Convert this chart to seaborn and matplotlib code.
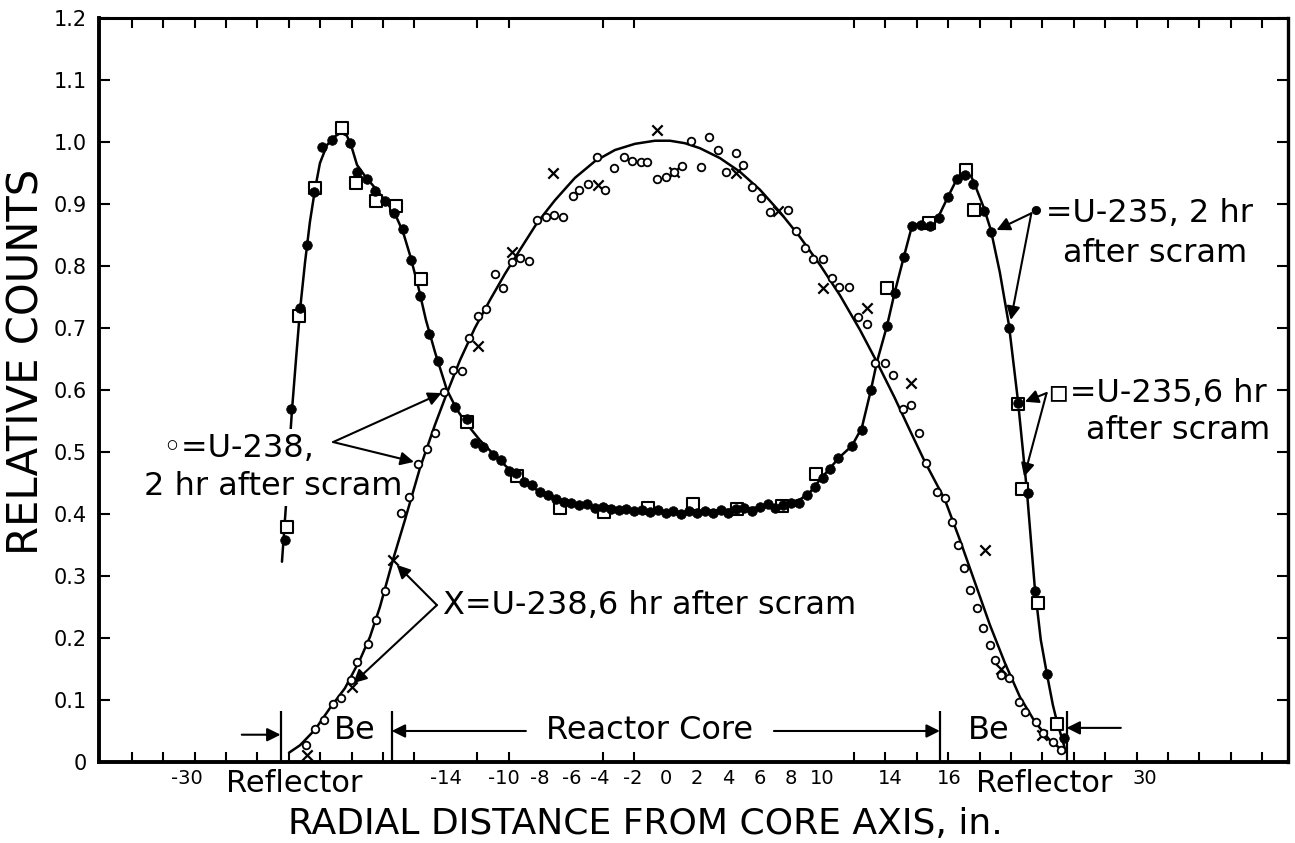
import numpy as np
import pandas as pd
import matplotlib
matplotlib.use("Agg")
import matplotlib.pyplot as plt
import seaborn as sns

# ---------------- data ----------------
# U-235, 2 hr after scram (filled dots)
u235_2h_x = [-24.24, -23.87, -23.29, -22.83, -22.40, -21.87, -21.25, -20.11, -19.68, -19.04,
             -18.52, -17.88, -17.31, -16.75, -16.22, -15.65, -15.06, -14.48, -13.42, -12.68,
             -12.15, -11.62,
             -11.0, -10.5, -10.0, -9.5, -9.0, -8.5, -8.0, -7.5, -7.0, -6.5, -6.0, -5.5, -5.0,
             -4.5, -4.0, -3.5, -3.0, -2.5, -2.0, -1.5, -1.0, -0.5, 0.0, 0.5, 1.0, 1.5, 2.0,
             2.5, 3.0, 3.5, 4.0, 4.5, 5.0, 5.5, 6.0, 6.5, 7.0, 7.5, 8.0, 8.5, 9.0, 9.5, 10.0,
             10.5, 11.0,
             11.85, 12.48, 13.06, 14.08, 14.61, 15.18, 15.67, 16.24, 16.83, 17.41, 17.98,
             18.54, 19.06, 19.59, 20.27, 20.72, 21.89, 22.46, 23.10, 23.52, 24.27, 25.37]
u235_2h_y = [0.358, 0.569, 0.732, 0.834, 0.920, 0.992, 1.003, 0.998, 0.952, 0.941,
             0.921, 0.905, 0.885, 0.859, 0.810, 0.752, 0.691, 0.647, 0.572, 0.553,
             0.515, 0.508,
             0.495, 0.487, 0.470, 0.466, 0.452, 0.446, 0.436, 0.430, 0.424, 0.420, 0.417,
             0.415, 0.416, 0.410, 0.411, 0.408, 0.406, 0.408, 0.404, 0.406, 0.403, 0.406,
             0.402, 0.405, 0.400, 0.405, 0.402, 0.405, 0.401, 0.406, 0.402, 0.408, 0.410,
             0.405, 0.412, 0.416, 0.410, 0.414, 0.418, 0.417, 0.430, 0.444, 0.458, 0.473,
             0.490,
             0.510, 0.535, 0.600, 0.703, 0.757, 0.814, 0.865, 0.866, 0.865, 0.877, 0.911,
             0.940, 0.947, 0.933, 0.888, 0.855, 0.700, 0.579, 0.434, 0.275, 0.142, 0.038]

# U-235, 6 hr after scram (open squares)
u235_6h_x = [-24.12, -23.34, -22.34, -20.64, -19.73, -18.45, -17.20, -15.59, -12.68, -9.47,
             -6.73, -3.93, -1.13, 1.74, 4.54, 7.41, 9.55, 14.08, 16.80, 19.13, 19.64,
             22.46, 22.68, 23.71, 24.94]
u235_6h_y = [0.379, 0.719, 0.926, 1.023, 0.934, 0.905, 0.896, 0.779, 0.549, 0.461,
             0.410, 0.403, 0.410, 0.416, 0.408, 0.413, 0.465, 0.764, 0.869, 0.954, 0.890,
             0.578, 0.441, 0.256, 0.061]

# U-238, 2 hr after scram (small open circles)
u238_2h_x = [-22.91, -22.32, -21.76, -21.21, -20.71, -20.04, -19.66, -18.94, -18.45, -17.88,
             -16.86, -16.33, -15.76, -15.18, -14.69, -14.10, -13.57, -12.99, -12.51, -11.94,
             -11.45, -10.87, -10.38, -9.77, -9.28, -8.69, -8.22, -7.62, -7.11, -6.56,
             -5.92, -5.50, -4.93, -4.36, -3.87, -3.29, -2.66, -2.15, -1.59, -1.21,
             -0.54, 0.00, 0.53, 1.06, 1.59, 2.25, 2.78, 3.35, 3.82, 4.48,
             4.94, 5.52, 6.05, 6.64, 7.81, 8.30, 8.87, 9.40, 10.04, 10.57,
             11.06, 11.69, 12.27, 12.80, 13.33, 13.97, 14.46, 15.10, 15.61, 16.15,
             16.62, 17.30, 17.79, 18.24, 18.62, 19.00, 19.38, 19.83, 20.22, 20.66,
             20.98, 21.36, 21.89, 22.52, 22.92, 23.59, 24.03, 24.69, 25.22]
u238_2h_y = [0.027, 0.053, 0.067, 0.093, 0.104, 0.132, 0.162, 0.190, 0.229, 0.275,
             0.402, 0.428, 0.481, 0.504, 0.531, 0.597, 0.633, 0.631, 0.684, 0.719,
             0.730, 0.787, 0.764, 0.806, 0.813, 0.808, 0.874, 0.879, 0.882, 0.879,
             0.913, 0.923, 0.933, 0.975, 0.923, 0.958, 0.975, 0.969, 0.967, 0.967,
             0.940, 0.944, 0.952, 0.962, 1.002, 0.959, 1.008, 0.987, 0.951, 0.983,
             0.963, 0.928, 0.909, 0.887, 0.891, 0.856, 0.829, 0.811, 0.811, 0.780,
             0.766, 0.766, 0.718, 0.706, 0.644, 0.643, 0.624, 0.570, 0.576, 0.531,
             0.483, 0.436, 0.425, 0.387, 0.350, 0.313, 0.277, 0.248, 0.216, 0.189,
             0.165, 0.140, 0.135, 0.096, 0.081, 0.065, 0.047, 0.033, 0.019]

# U-238, 6 hr after scram (crosses)
u238_6h_x = [-22.87, -20.00, -17.37, -11.97, -9.81, -7.20, -4.33, -0.57, 0.55, 4.48,
             7.13, 10.00, 12.80, 15.61, 20.34, 21.35, 23.98]
u238_6h_y = [0.011, 0.121, 0.326, 0.671, 0.823, 0.950, 0.931, 1.019, 0.952, 0.950,
             0.888, 0.764, 0.732, 0.611, 0.342, 0.150, 0.044]

# hand-drawn curves through the U-235 and U-238 data
u235_fit_x = [-24.44, -24.18, -23.93, -23.80, -23.55, -23.29, -22.97, -22.66, -22.34, -22.02,
              -21.57, -21.13, -20.68, -20.30, -19.98, -19.66, -19.15, -18.52, -17.88, -17.24,
              -16.73, -16.29, -15.78, -15.27, -14.69, -13.93, -13.29, -12.66, -11.83, -10.87,
              -9.92, -8.96, -8.01, -6.73, -5.46, -4.18, -2.91, -1.64, -0.36, 0.91,
              2.18, 3.46, 4.73, 6.01, 7.28, 8.55, 9.19, 9.83, 10.47, 11.10,
              11.87, 12.50, 13.08, 13.46, 14.10, 14.60, 15.18, 15.69, 16.20, 16.83,
              17.41, 17.98, 18.55, 19.00, 19.32, 19.64, 20.27, 20.72, 21.29, 21.87,
              22.44, 23.01, 23.52, 23.90, 24.29, 24.67, 24.93, 25.24, 25.50]
u235_fit_y = [0.323, 0.416, 0.519, 0.568, 0.648, 0.729, 0.806, 0.871, 0.923, 0.966,
              0.995, 1.008, 1.015, 1.010, 0.990, 0.963, 0.945, 0.926, 0.906, 0.884,
              0.855, 0.818, 0.769, 0.713, 0.661, 0.600, 0.568, 0.545, 0.519, 0.494,
              0.471, 0.452, 0.435, 0.423, 0.415, 0.410, 0.406, 0.405, 0.403, 0.403,
              0.405, 0.406, 0.408, 0.411, 0.415, 0.423, 0.435, 0.455, 0.474, 0.492,
              0.510, 0.539, 0.600, 0.645, 0.703, 0.758, 0.815, 0.864, 0.869, 0.869,
              0.881, 0.911, 0.940, 0.953, 0.952, 0.935, 0.894, 0.858, 0.790, 0.705,
              0.584, 0.439, 0.281, 0.197, 0.142, 0.092, 0.065, 0.039, 0.016]
u238_fit_x = [-23.99, -23.29, -22.34, -21.38, -20.43, -19.47, -18.83, -18.20, -17.37, -16.61,
              -15.65, -14.69, -13.93, -13.10, -12.15, -11.19, -10.24, -9.28, -8.20, -7.05,
              -5.78, -4.50, -3.23, -1.95, -0.68, 0.27, 1.23, 2.18, 3.46, 4.73,
              6.01, 7.28, 8.55, 9.83, 11.10, 12.38, 13.46, 14.60, 15.56, 16.52,
              17.79, 18.75, 19.70, 20.66, 21.61, 22.57, 23.52, 24.48, 25.43]
u238_fit_y = [0.015, 0.027, 0.052, 0.087, 0.119, 0.165, 0.202, 0.250, 0.326, 0.390,
              0.474, 0.544, 0.595, 0.648, 0.700, 0.745, 0.787, 0.826, 0.869, 0.906,
              0.942, 0.969, 0.987, 0.997, 1.002, 1.002, 0.998, 0.990, 0.974, 0.952,
              0.923, 0.887, 0.847, 0.802, 0.753, 0.697, 0.645, 0.587, 0.535, 0.484,
              0.423, 0.358, 0.290, 0.221, 0.160, 0.105, 0.065, 0.035, 0.016]

# axis ticks / labels
x_tick_pos = [-30.5, -14.0, -10.3, -8.0, -6.0, -4.2, -2.1, 0.0, 2.0, 4.0, 6.0, 8.0, 10.0, 14.3, 18.1, 30.5]
x_tick_labels = ["-30", "-14", "-10", "-8", "-6", "-4", "-2", "0", "2", "4", "6", "8", "10", "14", "16", "30"]
x_minor_ticks = [-34, -32, -30, -28, -26, -24, -22, -20, -18, -16, -14, -12, -10, -8, -6, -4, -2,
                 0, 2, 4, 6, 8, 10, 12, 14, 16, 18, 20, 22, 24, 26, 28, 30, 32, 34, 36, 38]
y_tick_pos = [0.0, 0.1, 0.2, 0.3, 0.4, 0.5, 0.6, 0.7, 0.8, 0.9, 1.0, 1.1, 1.2]
y_tick_labels = ["0", "0.1", "0.2", "0.3", "0.4", "0.5", "0.6", "0.7", "0.8", "0.9", "1.0", "1.1", "1.2"]
region_bounds = [-24.53, -17.45, 17.47, 25.54]   # Be reflector / core boundaries

# ---------------- figure ----------------
sns.set_theme(style="ticks")
plt.rcParams["font.family"] = ["DejaVu Sans"]
plt.rcParams["text.color"] = "black"
plt.rcParams["axes.labelcolor"] = "black"
plt.rcParams["xtick.color"] = "black"
plt.rcParams["ytick.color"] = "black"

fig = plt.figure(figsize=(12.95, 8.43), dpi=100)
ax = fig.add_axes([0.0764, 0.0961, 0.9182, 0.8826])

df235_fit = pd.DataFrame({"x": u235_fit_x, "y": u235_fit_y})
df238_fit = pd.DataFrame({"x": u238_fit_x, "y": u238_fit_y})
sns.lineplot(data=df235_fit, x="x", y="y", sort=False, estimator=None, color="black",
             lw=1.8, ax=ax, zorder=2)
sns.lineplot(data=df238_fit, x="x", y="y", sort=False, estimator=None, color="black",
             lw=1.8, ax=ax, zorder=2)

d1 = pd.DataFrame({"x": u235_2h_x, "y": u235_2h_y})
d2 = pd.DataFrame({"x": u235_6h_x, "y": u235_6h_y})
d3 = pd.DataFrame({"x": u238_2h_x, "y": u238_2h_y})
d4 = pd.DataFrame({"x": u238_6h_x, "y": u238_6h_y})

sns.scatterplot(data=d3, x="x", y="y", marker="o", s=30, color="white", edgecolor="black",
                linewidth=1.3, ax=ax, zorder=6, legend=False)
sns.scatterplot(data=d2, x="x", y="y", marker="s", s=85, color="white", edgecolor="black",
                linewidth=1.5, ax=ax, zorder=3, legend=False)
sns.scatterplot(data=d1, x="x", y="y", marker="o", s=48, color="black", edgecolor="black",
                linewidth=0.5, ax=ax, zorder=4, legend=False)
sns.scatterplot(data=d4, x="x", y="y", marker="x", s=55, color="black",
                linewidth=1.6, ax=ax, zorder=4, legend=False)

# axes
ax.set_xlim(-36.1, 39.65)
ax.set_ylim(0, 1.2)
ax.set_xticks(x_tick_pos)
ax.set_xticklabels(x_tick_labels)
ax.set_xticks(x_minor_ticks, minor=True)
ax.set_yticks(y_tick_pos)
ax.set_yticklabels(y_tick_labels)
ax.tick_params(axis="x", which="major", length=0, pad=5, labelsize=14, labelcolor="black")
ax.tick_params(axis="x", which="minor", direction="in", length=7, width=1.5,
               top=True, bottom=True, color="black")
ax.tick_params(axis="y", which="major", direction="in", length=8, width=1.5,
               left=True, right=True, labelsize=15, pad=9, color="black", labelcolor="black")
for side, lw in (("left", 2.8), ("bottom", 2.8), ("top", 2.2), ("right", 2.4)):
    ax.spines[side].set_visible(True)
    ax.spines[side].set_linewidth(lw)
    ax.spines[side].set_color("black")

ax.set_xlabel("RADIAL DISTANCE FROM CORE AXIS, in.", fontsize=26, color="black")
ax.set_ylabel("RELATIVE COUNTS", fontsize=30, color="black")
ax.xaxis.set_label_coords(0.4592, -0.060)
ax.yaxis.set_label_coords(-0.043, 0.538)

# region boundary markers
ax.vlines(region_bounds, 0, 0.082, color="black", lw=1.6, zorder=2)
arrow = dict(arrowstyle="-|>", lw=1.5, color="black", mutation_scale=20,
             shrinkA=0, shrinkB=0)
ax.annotate("", xy=(-24.53, 0.044), xytext=(-27.0, 0.044), arrowprops=arrow)
ax.annotate("", xy=(25.54, 0.055), xytext=(29.0, 0.055), arrowprops=arrow)
ax.annotate("", xy=(-17.45, 0.05), xytext=(-8.9, 0.05), arrowprops=arrow)
ax.annotate("", xy=(17.47, 0.05), xytext=(6.9, 0.05), arrowprops=arrow)
txt = dict(fontsize=23, color="black", zorder=5)
ax.text(-1.0, 0.05, "Reactor Core", ha="center", va="center", **txt)
ax.text(-19.81, 0.05, "Be", ha="center", va="center", **txt)
ax.text(20.59, 0.05, "Be", ha="center", va="center", **txt)
ax.text(-23.66, -0.034, "Reflector", ha="center", va="center", fontsize=22,
        color="black", clip_on=False)
ax.text(24.1, -0.034, "Reflector", ha="center", va="center", fontsize=22,
        color="black", clip_on=False)

# series annotations
wb = dict(facecolor="white", edgecolor="none", pad=3)
ax.text(-32.1, 0.506, "\u25e6=U-238,", ha="left", va="center", bbox=wb, **txt)
ax.text(-33.2, 0.444, "2 hr after scram", ha="left", va="center", bbox=wb, **txt)
ax.annotate("", xy=(-14.27, 0.595), xytext=(-21.18, 0.516), arrowprops=arrow)
ax.annotate("", xy=(-16.03, 0.484), xytext=(-21.18, 0.516), arrowprops=arrow)

ax.text(-14.2, 0.253, "X=U-238,6 hr after scram", ha="left", va="center", **txt)
ax.annotate("", xy=(-17.13, 0.318), xytext=(-14.57, 0.253), arrowprops=arrow)
ax.annotate("", xy=(-19.90, 0.127), xytext=(-14.57, 0.253), arrowprops=arrow)

ax.text(23.05, 0.885, "\u2022=U-235, 2 hr", ha="left", va="center", **txt)
ax.text(25.29, 0.820, "after scram", ha="left", va="center", **txt)
ax.annotate("", xy=(21.08, 0.858), xytext=(23.3, 0.885), arrowprops=arrow)
ax.annotate("", xy=(21.99, 0.713), xytext=(23.3, 0.885), arrowprops=arrow)

ax.text(24.35, 0.595, "\u25ab=U-235,6 hr", ha="left", va="center", **txt)
ax.text(26.77, 0.535, "after scram", ha="left", va="center", **txt)
ax.annotate("", xy=(22.89, 0.581), xytext=(24.27, 0.595), arrowprops=arrow)
ax.annotate("", xy=(22.84, 0.460), xytext=(24.27, 0.595), arrowprops=arrow)

fig.savefig("out.png", dpi=100)
